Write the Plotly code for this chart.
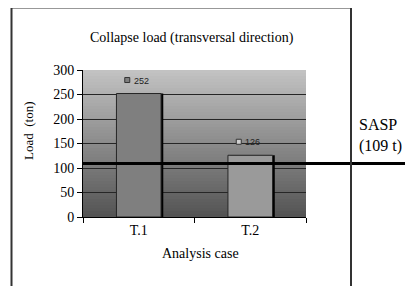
import plotly.graph_objects as go

# ---- data ----
categories = ["T.1", "T.2"]
collapse_load = [252, 126]
label_text = ["252", "126"]
sasp_value = 109
sasp_label = ["SASP", "(109 t)"]
y_ticks = [0, 50, 100, 150, 200, 250, 300]

bar_colors = ["#7f7f7f", "#9a9a9a"]
key_colors = ["#7f7f7f", "#d0d0d0"]

SERIF = "Liberation Serif"

# page body has an 8px margin; lay out in window coordinates minus 8
OFF = 8
PL, PR, PT, PB = 83, 306, 70, 217   # plot area in window px
PW, PH = PR - PL, PB - PT


def px(xw):
    return (xw - PL) / PW


def py(yw):
    return (PB - yw) / PH


fig = go.Figure()

# shadow bars (black, slightly offset to the right)
fig.add_trace(go.Bar(
    x=categories, y=collapse_load, width=0.4, offset=-0.18,
    marker=dict(color="#000000", line=dict(width=0)),
    hoverinfo="skip", showlegend=False,
))
# main bars
fig.add_trace(go.Bar(
    x=categories, y=collapse_load, width=0.4, offset=-0.2,
    marker=dict(color=bar_colors, line=dict(color="#262626", width=1)),
    showlegend=False,
))

shapes = []
# gradient background of plot area (bands, 3px each, overlapping)
n = PH // 3
top = (194, 194, 194)
bot = (84, 84, 84)
for i in range(n):
    t = i / (n - 1)
    c = tuple(int(round(bot[k] + (top[k] - bot[k]) * t)) for k in range(3))
    shapes.append(dict(
        type="rect", xref="x domain", yref="y domain",
        x0=0, x1=1, y0=i / n, y1=min(1.0, (i + 1.6) / n),
        fillcolor="rgb(%d,%d,%d)" % c, line=dict(width=0), layer="below",
    ))

# data-label keys (small squares)
for i, v in enumerate(collapse_load):
    shapes.append(dict(
        type="rect", xref="x", yref="y",
        xsizemode="pixel", ysizemode="pixel",
        xanchor=i, yanchor=v,
        x0=-14, x1=-9, y0=11, y1=16,
        fillcolor=key_colors[i], line=dict(color="#333333", width=1),
        layer="above",
    ))

# SASP line
shapes.append(dict(
    type="line", xref="x domain", yref="y",
    x0=0, x1=px(405), y0=sasp_value, y1=sasp_value,
    line=dict(color="#000000", width=3), layer="above",
))

# outer frame
shapes.append(dict(
    type="rect", xref="paper", yref="paper",
    x0=px(11.5), x1=px(351), y0=py(300), y1=py(7.5),
    line=dict(color="#333333", width=2), fillcolor="rgba(0,0,0,0)",
    layer="above",
))

annotations = []
for i, v in enumerate(collapse_load):
    annotations.append(dict(
        x=i, y=v, xref="x", yref="y", text=label_text[i],
        showarrow=False, xanchor="left", yanchor="middle",
        xshift=-7, yshift=13,
        font=dict(family="Liberation Sans", size=9, color="#222222"),
    ))

# SASP text
for j, s in enumerate(sasp_label):
    annotations.append(dict(
        x=px(357), y=py(124 + 22 * j),
        xref="paper", yref="paper", text=s, showarrow=False,
        xanchor="left", yanchor="middle",
        font=dict(family=SERIF, size=16, color="#000000"),
    ))

# title
annotations.append(dict(
    x=px(192), y=py(38), xref="paper", yref="paper",
    text="Collapse load (transversal direction)", showarrow=False,
    xanchor="center", yanchor="middle",
    font=dict(family=SERIF, size=14, color="#000000"),
))
# y axis title
annotations.append(dict(
    x=px(28), y=py(131), xref="paper", yref="paper",
    text="Load  (ton)", showarrow=False, textangle=-90,
    xanchor="center", yanchor="middle",
    font=dict(family=SERIF, size=13, color="#000000"),
))
# x axis title
annotations.append(dict(
    x=px(200), y=py(253), xref="paper", yref="paper",
    text="Analysis case", showarrow=False,
    xanchor="center", yanchor="middle",
    font=dict(family=SERIF, size=14, color="#000000"),
))

W, H = 416, 286
fig.update_layout(
    width=W, height=H,
    margin=dict(l=PL - OFF, r=W - (PR - OFF), t=PT - OFF, b=H - (PB - OFF)),
    paper_bgcolor="white", plot_bgcolor="rgba(0,0,0,0)",
    barmode="overlay",
    shapes=shapes, annotations=annotations,
    font=dict(family=SERIF, size=14, color="#000000"),
    xaxis=dict(
        type="category", range=[-0.5, 1.5],
        showline=True, linecolor="#000000", linewidth=1,
        ticks="outside", tickson="boundaries", ticklen=5, tickcolor="#000000",
        showgrid=False, zeroline=False,
        tickfont=dict(family=SERIF, size=14),
    ),
    yaxis=dict(
        range=[0, 300], tickvals=y_ticks,
        showline=True, linecolor="#000000", linewidth=1,
        ticks="outside", ticklen=5, tickcolor="#000000",
        showgrid=True, gridcolor="#262626", gridwidth=1,
        zeroline=False,
        tickfont=dict(family=SERIF, size=14),
    ),
)

fig.write_html("out.html")
